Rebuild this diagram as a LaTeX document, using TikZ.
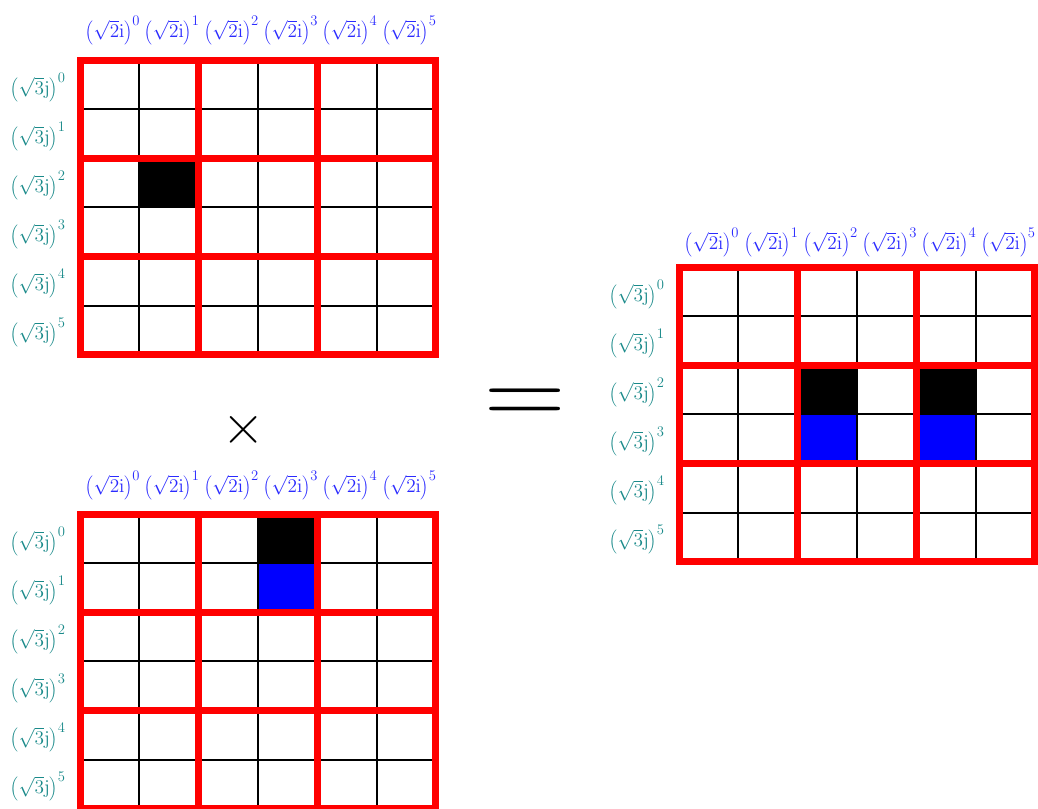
\RequirePackage{fix-cm}
\documentclass[tikz,border=0pt]{standalone}
\usepackage{graphicx}
\usetikzlibrary{positioning}
\definecolor{clrgrid}{HTML}{FF0000}
\definecolor{clrcol}{HTML}{2B2BFF}
\definecolor{clrrow}{HTML}{1A8A8A}
\definecolor{clrmark}{HTML}{0000FF}
\newcommand{\cellw}{59.3}
\newcommand{\cellh}{49.1}
\newcommand{\pw}[1]{^{\hbox{\fontsize{11}{11}\selectfont #1}}}

\begin{document}
\begin{tikzpicture}[
    x=0.75pt, y=-0.75pt,
    thinline/.style={black, line width=1.5pt},
    redline/.style={draw=clrgrid, line width=5.25pt},
    hitcell/.style={fill=black},
    shiftcell/.style={fill=clrmark},
    collabel/.style={text=clrcol, font=\fontsize{14.5}{16}\selectfont, inner sep=0pt},
    rowlabel/.style={text=clrrow, font=\fontsize{14.5}{16}\selectfont, inner sep=0pt, anchor=east},
    opsign/.style={font=\fontsize{44}{44}\selectfont, inner sep=0pt},
]
\useasboundingbox (0,0) rectangle (1038,808);
% first factor
\begin{scope}[shift={(80,60)}]
\fill[hitcell] (1*\cellw,2*\cellh) rectangle ++(\cellw,\cellh);
\foreach \k in {1,3,5} {
  \draw[thinline] (\k*\cellw,0) -- (\k*\cellw,6*\cellh);
  \draw[thinline] (0,\k*\cellh) -- (6*\cellw,\k*\cellh);
}
\foreach \k in {2,4} {
  \draw[redline] (\k*\cellw,0) -- (\k*\cellw,6*\cellh);
  \draw[redline] (0,\k*\cellh) -- (6*\cellw,\k*\cellh);
}
\draw[redline] (0,0) rectangle (6*\cellw,6*\cellh);
\foreach \k in {0,...,5} {
  \node[collabel] (a_col\k) at (\k*\cellw+33,-30) {$\left(\sqrt{2}\mathrm{i}\right)\pw{\k}$};
  \node[rowlabel] (a_row\k) at (-14,\k*\cellh+27) {$\left(\sqrt{3}\mathrm{j}\right)\pw{\k}$};
}
\end{scope}
% second factor
\begin{scope}[shift={(80,514)}]
\fill[hitcell] (3*\cellw,0) rectangle ++(\cellw,\cellh);
\fill[shiftcell] (3*\cellw,1*\cellh) rectangle ++(\cellw,\cellh);
\foreach \k in {1,3,5} {
  \draw[thinline] (\k*\cellw,0) -- (\k*\cellw,6*\cellh);
  \draw[thinline] (0,\k*\cellh) -- (6*\cellw,\k*\cellh);
}
\foreach \k in {2,4} {
  \draw[redline] (\k*\cellw,0) -- (\k*\cellw,6*\cellh);
  \draw[redline] (0,\k*\cellh) -- (6*\cellw,\k*\cellh);
}
\draw[redline] (0,0) rectangle (6*\cellw,6*\cellh);
\foreach \k in {0,...,5} {
  \node[collabel] (b_col\k) at (\k*\cellw+33,-29) {$\left(\sqrt{2}\mathrm{i}\right)\pw{\k}$};
  \node[rowlabel] (b_row\k) at (-14,\k*\cellh+27) {$\left(\sqrt{3}\mathrm{j}\right)\pw{\k}$};
}
\end{scope}
% product
\begin{scope}[shift={(679,267)}]
\fill[hitcell] (2*\cellw,2*\cellh) rectangle ++(\cellw,\cellh);
\fill[hitcell] (4*\cellw,2*\cellh) rectangle ++(\cellw,\cellh);
\fill[shiftcell] (2*\cellw,3*\cellh) rectangle ++(\cellw,\cellh);
\fill[shiftcell] (4*\cellw,3*\cellh) rectangle ++(\cellw,\cellh);
\foreach \k in {1,3,5} {
  \draw[thinline] (\k*\cellw,0) -- (\k*\cellw,6*\cellh);
  \draw[thinline] (0,\k*\cellh) -- (6*\cellw,\k*\cellh);
}
\foreach \k in {2,4} {
  \draw[redline] (\k*\cellw,0) -- (\k*\cellw,6*\cellh);
  \draw[redline] (0,\k*\cellh) -- (6*\cellw,\k*\cellh);
}
\draw[redline] (0,0) rectangle (6*\cellw,6*\cellh);
\foreach \k in {0,...,5} {
  \node[collabel] (c_col\k) at (\k*\cellw+33,-25) {$\left(\sqrt{2}\mathrm{i}\right)\pw{\k}$};
  \node[rowlabel] (c_row\k) at (-14,\k*\cellh+27) {$\left(\sqrt{3}\mathrm{j}\right)\pw{\k}$};
}
\end{scope}
\node[opsign] (times) at (244,430) {×};
\node[opsign, font=\fontsize{77}{77}\selectfont] (equals) at (525,407) {\scalebox{1.1}[1]{=}};
\end{tikzpicture}
\end{document}
